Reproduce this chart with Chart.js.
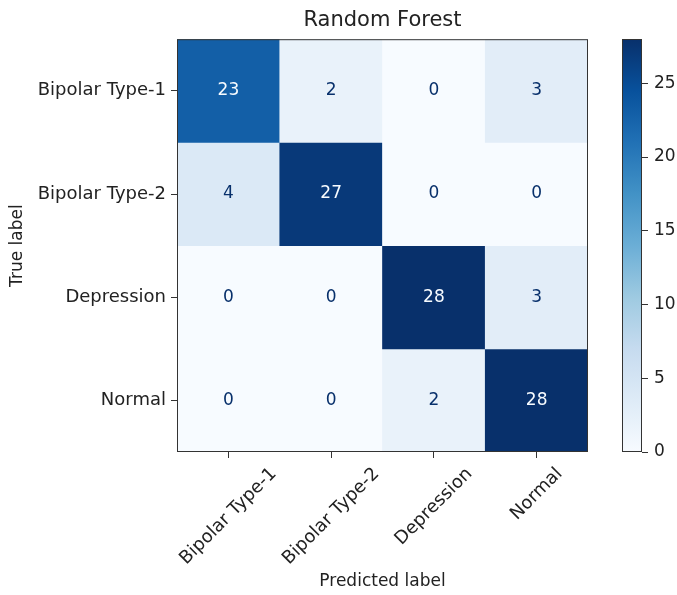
<!DOCTYPE html>
<html>
<head>
<meta charset="utf-8">
<script src="https://cdn.jsdelivr.net/npm/chart.js@4.4.0/dist/chart.umd.min.js"></script>
<style>
  body { margin: 0; background: #fff; }
  #wrap { position: relative; width: 677px; height: 595px; }
  #matrix { position: absolute; left: 0; top: 0; width: 600px; height: 595px; }
  #scale { position: absolute; left: 600px; top: 0; width: 77px; height: 595px; }
</style>
</head>
<body>
<div id="wrap">
  <canvas id="matrix" width="600" height="595"></canvas>
  <canvas id="scale" width="77" height="595"></canvas>
</div>
<script>
// class names, used for both axes
const labels = ['Bipolar Type-1', 'Bipolar Type-2', 'Depression', 'Normal'];

// one row per true label, columns are predicted labels
const bipolar1 = [23, 2, 0, 3];
const bipolar2 = [4, 27, 0, 0];
const depression = [0, 0, 28, 3];
const normal = [0, 0, 2, 28];
const rows = [bipolar1, bipolar2, depression, normal];

const colorMax = 28;
const colorTicks = [0, 5, 10, 15, 20, 25];

// matplotlib "Blues"
const blues = ['#f7fbff', '#deebf7', '#c6dbef', '#9ecae1', '#6baed6', '#4292c6', '#2171b5', '#08519c', '#08306b'];

Chart.defaults.font.family = 'DejaVu Sans';
Chart.defaults.color = '#222';

function hexToRgb(h) {
    return [1, 3, 5].map(i => parseInt(h.slice(i, i + 2), 16));
}

function bluesAt(t) {
    t = Math.max(0, Math.min(1, t));
    const pos = t * (blues.length - 1);
    const i = Math.min(Math.floor(pos), blues.length - 2);
    const f = pos - i;
    const a = hexToRgb(blues[i]);
    const b = hexToRgb(blues[i + 1]);
    const c = a.map((v, k) => Math.round(v + (b[k] - v) * f));
    return 'rgb(' + c.join(',') + ')';
}

// dark outline around the plot area
const frame = {
    id: 'frame',
    afterDraw(chart) {
        const a = chart.chartArea;
        const ctx = chart.ctx;
        ctx.save();
        ctx.strokeStyle = '#333';
        ctx.lineWidth = 1;
        ctx.strokeRect(a.left + 0.5, a.top + 0.5, a.width - 1, a.height - 1);
        ctx.restore();
    }
};

// counts written in the middle of each cell
const cellText = {
    id: 'cellText',
    afterDatasetsDraw(chart) {
        const ctx = chart.ctx;
        ctx.save();
        ctx.font = '17px "DejaVu Sans"';
        ctx.textAlign = 'center';
        ctx.textBaseline = 'middle';
        chart.data.datasets.forEach((ds, i) => {
            chart.getDatasetMeta(i).data.forEach((bar, j) => {
                const v = ds.data[j].v;
                ctx.fillStyle = v >= colorMax / 2 ? '#f7fbff' : '#08306b';
                ctx.fillText(String(v), bar.x, (bar.y + bar.base) / 2);
            });
        });
        ctx.restore();
    }
};

// rotated x labels, centred under their tick like matplotlib does
const xLabels = {
    id: 'xLabels',
    afterDraw(chart) {
        const ctx = chart.ctx;
        const xs = chart.scales.x;
        const top = chart.chartArea.bottom + 12;
        ctx.save();
        ctx.font = '18px "DejaVu Sans"';
        ctx.fillStyle = '#222';
        ctx.textAlign = 'center';
        ctx.textBaseline = 'middle';
        labels.forEach((lab, i) => {
            const w = ctx.measureText(lab).width;
            const h = 20;
            const cy = top + (w + h) * Math.SQRT1_2 / 2;
            ctx.save();
            ctx.translate(xs.getPixelForValue(i), cy);
            ctx.rotate(-Math.PI / 4);
            ctx.fillText(lab, 0, 0);
            ctx.restore();
        });
        ctx.restore();
    }
};

const datasets = rows.map((row, i) => ({
    label: labels[i],
    data: row.map((v, j) => ({ x: labels[j], y: [i - 0.5, i + 0.5], v: v })),
    backgroundColor: ctx => ctx.raw ? bluesAt(ctx.raw.v / colorMax) : blues[0],
    borderWidth: 0,
    grouped: false,
    barPercentage: 1,
    categoryPercentage: 1
}));

let chart = new Chart(document.getElementById('matrix'), {
    type: 'bar',
    data: { labels: labels, datasets: datasets },
    options: {
        responsive: false,
        animation: false,
        layout: { padding: { left: 0, right: 12, top: 0, bottom: 0 } },
        plugins: {
            legend: { display: false },
            tooltip: { enabled: false },
            title: {
                display: true,
                text: 'Random Forest',
                fullSize: false,
                color: '#222',
                font: { size: 21, weight: 'normal' },
                padding: { top: 8, bottom: 6 }
            }
        },
        scales: {
            x: {
                type: 'category',
                offset: true,
                grid: { offset: false, drawOnChartArea: false, tickLength: 6, color: '#333' },
                border: { display: false },
                ticks: { display: false },
                title: {
                    display: true,
                    text: 'Predicted label',
                    color: '#222',
                    font: { size: 17 },
                    padding: { top: 0, bottom: 3 }
                },
                afterFit: s => { s.height = 143; }
            },
            y: {
                type: 'linear',
                min: -0.5,
                max: 3.5,
                reverse: true,
                afterBuildTicks: s => { s.ticks = labels.map((_, i) => ({ value: i })); },
                ticks: { callback: v => labels[v], font: { size: 18 }, color: '#222', padding: 5 },
                grid: { drawOnChartArea: false, tickLength: 6, color: '#333' },
                border: { display: false },
                title: {
                    display: true,
                    text: 'True label',
                    color: '#222',
                    font: { size: 17 },
                    padding: { top: 7, bottom: 0 }
                },
                afterFit: s => { s.width = 177; }
            }
        }
    },
    plugins: [cellText, frame, xLabels]
});

// colour bar beside the matrix
let bar = new Chart(document.getElementById('scale'), {
    type: 'bar',
    data: {
        labels: [''],
        datasets: [{
            data: [[0, colorMax]],
            backgroundColor: ctx => {
                const area = ctx.chart.chartArea;
                if (!area) return blues[4];
                const g = ctx.chart.ctx.createLinearGradient(0, area.bottom, 0, area.top);
                blues.forEach((c, i) => g.addColorStop(i / (blues.length - 1), c));
                return g;
            },
            borderWidth: 0,
            barPercentage: 1,
            categoryPercentage: 1
        }]
    },
    options: {
        responsive: false,
        animation: false,
        layout: { padding: { left: 22, right: 0, top: 39, bottom: 143 } },
        plugins: { legend: { display: false }, tooltip: { enabled: false } },
        scales: {
            x: { display: false },
            y: {
                position: 'right',
                min: 0,
                max: colorMax,
                afterBuildTicks: s => { s.ticks = colorTicks.map(v => ({ value: v })); },
                ticks: { font: { size: 17 }, color: '#222', padding: 6 },
                grid: { drawOnChartArea: false, tickLength: 6, color: '#333' },
                border: { display: false },
                afterFit: s => { s.width = 35; }
            }
        }
    },
    plugins: [frame]
});
</script>
</body>
</html>
